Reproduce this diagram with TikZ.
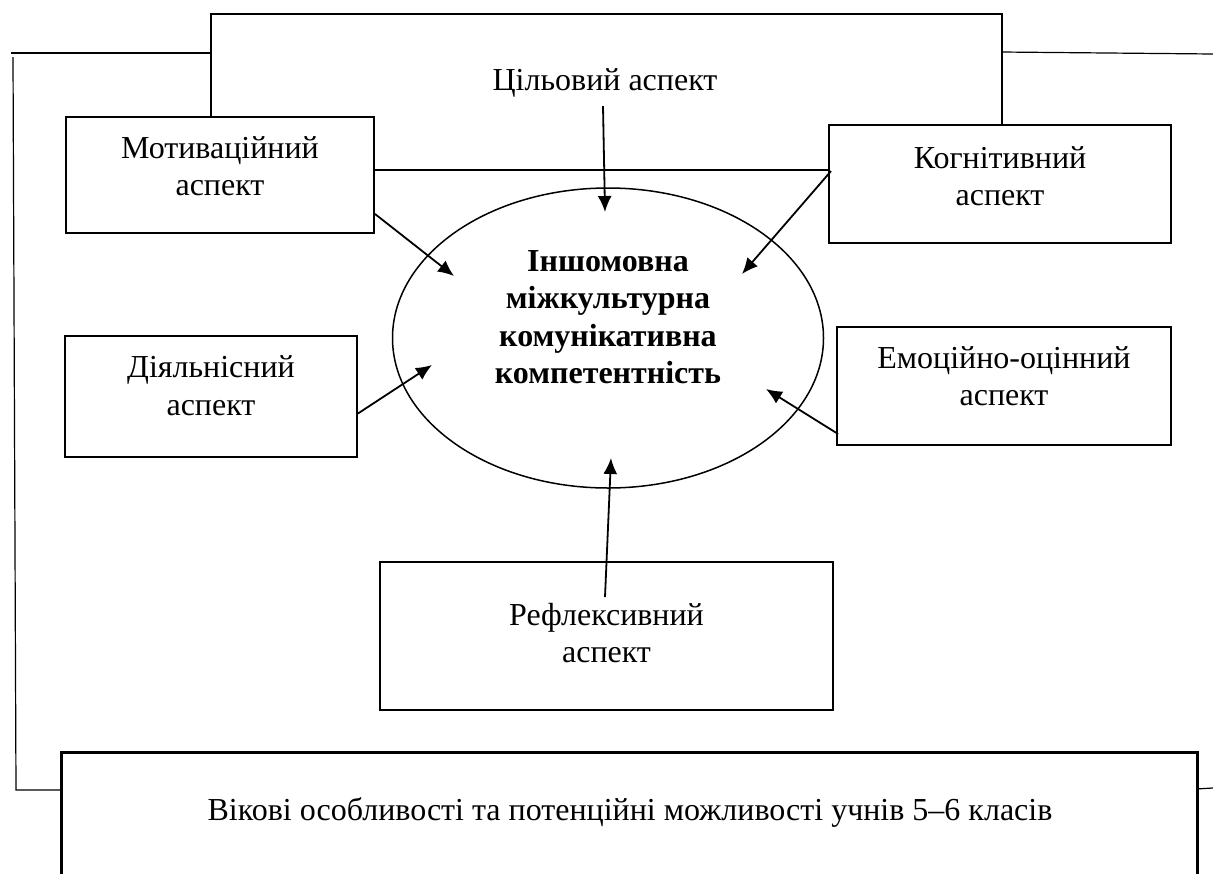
\documentclass[tikz,border=0pt]{standalone}
\usepackage{fontspec}
\setmainfont{Liberation Serif}
\usetikzlibrary{arrows.meta,calc,shapes.geometric}

\tikzset{
  every node/.style={font=\fontsize{32}{37.5}\selectfont},
  aspectbox/.style={draw,line width=1.9pt,fill=white,align=center,inner sep=0pt},
  lifted/.style={text depth=#1},
  frameline/.style={line width=1.2pt},
  arr/.style={line width=1.8pt,-{Latex[length=16pt,width=14pt]}},
}

\begin{document}
\begin{tikzpicture}[x=1pt,y=-1pt]
\useasboundingbox (0,0) rectangle (1213,873);

% Outer frame.
\draw[frameline] (210,53) -- (11,53);
\draw[frameline] (13,57) -- (16,790) -- (60,790);
\draw[frameline] (1001,52) -- (1213,54);
\draw[frameline] (1196,789) -- (1213,788);

% Top box with its caption.
\node[aspectbox,anchor=north west,minimum width=791,minimum height=156] (top) at (210,13) {};
\node[anchor=base,inner sep=0pt] (cil) at (605,90) {Цільовий аспект};

% Central ellipse.
\node[draw,ellipse,line width=1.5pt,minimum width=431,minimum height=300] (comp) at (608,338) {};
\node[align=center,inner sep=0pt,font=\fontsize{32}{37.5}\selectfont\bfseries] (comptext) at (608,317) {Іншомовна\\міжкультурна\\комунікативна\\компетентність};

% Aspect boxes.
\node[aspectbox,lifted=18pt,minimum width=308,minimum height=116] (mot) at (220,175) {Мотиваційний\\аспект};
\node[aspectbox,lifted=16pt,minimum width=342,minimum height=118] (kog) at (1000,184) {Когнітивний\\аспект};
\node[aspectbox,lifted=22pt,minimum width=292,minimum height=121] (dij) at (211,396.5) {Діяльнісний\\аспект};
\node[aspectbox,lifted=20pt,minimum width=334,minimum height=118] (emo) at (1004,386) {Емоційно-оцінний\\аспект};
\node[aspectbox,lifted=6pt,minimum width=453,minimum height=148] (ref) at (606.5,636) {Рефлексивний\\аспект};

% Bottom box.
\node[aspectbox,line width=2.5pt,anchor=north west,minimum width=1136,minimum height=160] (age) at (60,751) {};
\node[anchor=base,inner sep=0pt] (agetext) at (630,820) {Вікові особливості та потенційні можливості учнів 5–6 класів};

% Arrow tips inside the ellipse.
\coordinate (tcil) at (605,212);
\coordinate (tmot) at (454,276);
\coordinate (tkog) at (742,274);
\coordinate (tdij) at (432,365);
\coordinate (temo) at (766,389);
\coordinate (tref) at (611,458);

\draw[arr] ($(cil.south)+(-2,9)$) -- (tcil);
\draw[arr] ($(mot.south east)+(0,-20)$) -- (tmot);
\draw[arr] ($(kog.north west)+(3,47)$) -- (tkog);
\draw[arr] ($(dij.east)+(0,17)$) -- (tdij);
\draw[arr] ($(emo.south west)+(2,-12)$) -- (temo);
\draw[arr] ($(ref.north)+(-1.5,36)$) -- (tref);

\end{tikzpicture}
\end{document}
